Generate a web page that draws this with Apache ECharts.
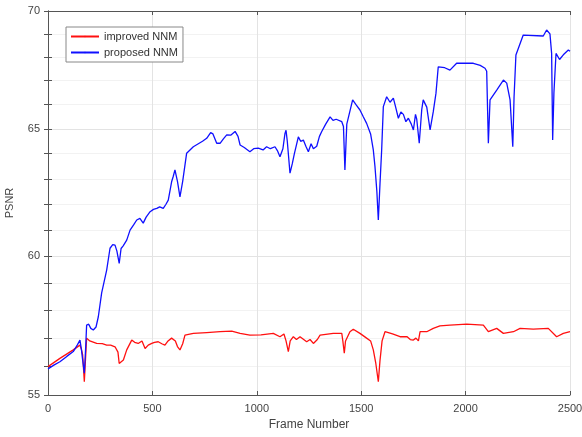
<!DOCTYPE html>
<html>
<head>
<meta charset="utf-8">
<script src="https://cdn.jsdelivr.net/npm/echarts@6/dist/echarts.min.js"></script>
<style>
  html, body { margin: 0; padding: 0; background: #fff; }
  #psnrChart { width: 582px; height: 437px; }
</style>
</head>
<body>
<div id="psnrChart"></div>
<script>
// 数据
const redFrames = [0, 57, 121, 153, 160, 166, 174, 180, 185, 200, 233, 260, 281, 300, 321, 335, 341, 350, 361, 377,
  401, 415, 432, 450, 465, 480, 497, 510, 528, 545, 560, 575, 592, 610, 620, 632, 645, 656, 696, 760,
  824, 880, 920, 967, 1020, 1079, 1111, 1130, 1140, 1151, 1160, 1175, 1190, 1207, 1239, 1255, 1271, 1290, 1303, 1366,
  1407, 1412, 1419, 1425, 1446, 1462, 1494, 1526, 1545, 1558, 1570, 1582, 1590, 1600, 1614, 1650, 1686, 1720, 1735, 1750,
  1762, 1774, 1782, 1814, 1845, 1877, 1925, 2005, 2085, 2109, 2149, 2181, 2229, 2261, 2324, 2396, 2436, 2468, 2500];
const redValues = [55.99, 56.28, 56.58, 56.75, 56.6, 56.40, 55.46, 56.3, 57.0, 56.9, 56.81, 56.8, 56.75, 56.75, 56.69, 56.5, 56.1, 56.05, 56.22, 56.58,
  56.93, 56.85, 56.81, 56.9, 56.63, 56.75, 56.81, 56.85, 56.87, 56.8, 56.75, 56.9, 57.0, 56.9, 56.7, 56.58, 56.8, 57.11, 57.17, 57.2,
  57.23, 57.25, 57.17, 57.11, 57.12, 57.17, 57.05, 57.15, 56.9, 56.52, 56.9, 57.05, 56.95, 57.05, 56.87, 56.95, 56.81, 56.95, 57.11, 57.17,
  57.17, 56.9, 56.46, 56.9, 57.23, 57.32, 57.17, 57.0, 56.9, 56.58, 56.1, 55.46, 56.2, 56.9, 57.23, 57.15, 57.05, 57.05, 56.95, 56.93,
  57.0, 56.9, 57.23, 57.23, 57.35, 57.44, 57.47, 57.50, 57.47, 57.23, 57.35, 57.17, 57.23, 57.35, 57.32, 57.35, 57.05, 57.17, 57.23];

const blueFrames = [0, 30, 57, 90, 121, 140, 153, 160, 166, 174, 180, 185, 195, 205, 217, 230, 241, 257, 281, 297,
  310, 321, 330, 341, 350, 360, 377, 393, 410, 425, 440, 456, 470, 489, 505, 521, 535, 552, 565, 576,
  592, 600, 608, 620, 632, 645, 664, 680, 696, 720, 740, 760, 779, 790, 808, 824, 840, 856, 875, 896,
  910, 920, 940, 967, 985, 1007, 1030, 1047, 1065, 1087, 1100, 1111, 1125, 1135, 1140, 1146, 1159, 1170, 1180, 1199,
  1210, 1223, 1235, 1247, 1260, 1271, 1287, 1300, 1311, 1330, 1351, 1365, 1380, 1407, 1415, 1422, 1431, 1459, 1475, 1494,
  1510, 1526, 1545, 1558, 1566, 1575, 1582, 1590, 1598, 1606, 1622, 1638, 1654, 1665, 1678, 1690, 1702, 1714, 1726, 1740,
  1750, 1760, 1766, 1778, 1790, 1797, 1814, 1830, 1845, 1858, 1869, 1900, 1925, 1957, 2000, 2037, 2070, 2093, 2101, 2109,
  2117, 2149, 2181, 2197, 2213, 2226, 2232, 2241, 2276, 2372, 2388, 2404, 2412, 2417, 2423, 2433, 2450, 2468, 2492, 2500];
const blueValues = [55.91, 56.05, 56.16, 56.35, 56.52, 56.75, 56.93, 56.6, 56.22, 55.76, 56.6, 57.47, 57.5, 57.35, 57.29, 57.4, 57.77, 58.64, 59.49, 60.31,
  60.45, 60.43, 60.2, 59.74, 60.3, 60.4, 60.62, 61.00, 61.2, 61.39, 61.45, 61.27, 61.5, 61.71, 61.8, 61.84, 61.9, 61.84, 62.0, 62.16,
  62.88, 63.1, 63.35, 62.9, 62.29, 62.9, 64.02, 64.15, 64.28, 64.4, 64.5, 64.62, 64.85, 64.8, 64.42, 64.42, 64.6, 64.76, 64.75, 64.90,
  64.7, 64.35, 64.25, 64.08, 64.2, 64.22, 64.15, 64.28, 64.2, 64.28, 64.1, 63.88, 64.2, 64.82, 64.95, 64.5, 63.22, 63.6, 64.0, 64.68,
  64.5, 64.55, 64.3, 64.08, 64.4, 64.2, 64.3, 64.7, 64.90, 65.2, 65.50, 65.35, 65.4, 65.30, 65.1, 63.35, 65.2, 66.20, 66.0, 65.78,
  65.5, 65.23, 64.8, 64.15, 63.48, 62.5, 61.39, 62.8, 64.15, 65.92, 66.33, 66.1, 66.27, 65.9, 65.44, 65.7, 65.6, 65.3, 65.44, 65.2,
  64.96, 65.6, 65.4, 64.42, 65.8, 66.20, 65.9, 64.96, 65.7, 66.47, 67.59, 67.55, 67.45, 67.74, 67.74, 67.74, 67.65, 67.53, 67.4, 64.42,
  66.20, 66.61, 67.03, 66.9, 66.20, 64.28, 66.3, 68.09, 68.95, 68.91, 69.17, 69.0, 68.16, 64.55, 66.5, 68.16, 67.9, 68.1, 68.31, 68.25];

const xTicks = [0, 500, 1000, 1500, 2000, 2500];
const yTickLabels = [55, 60, 65, 70];
const yMinorTicks = [55, 56, 57, 58, 59, 60, 61, 62, 63, 64, 65, 66, 67, 68, 69, 70];

const pairUp = (xs, ys) => xs.map((x, i) => [x, ys[i]]);

const chart = echarts.init(document.getElementById('psnrChart'));
const axisGray = '#555';
const labelGray = '#444';
const fontFam = 'Arial, "Liberation Sans", sans-serif';

chart.setOption({
  animation: false,
  grid: { left: 48, right: 12, top: 11, bottom: 42, outerBoundsMode: 'none' },
  legend: {
    data: ['improved NNM', 'proposed NNM'],
    orient: 'vertical',
    left: 66, top: 27,
    itemWidth: 28, itemHeight: 2, itemGap: 5,
    padding: [4, 5, 4, 4],
    borderColor: '#888', borderWidth: 1, backgroundColor: '#fff',
    textStyle: { fontSize: 11, color: '#333', fontFamily: fontFam }
  },
  xAxis: [
    {
      type: 'value', min: 0, max: 2500, interval: 500,
      name: 'Frame Number', nameLocation: 'middle', nameGap: 24,
      nameTextStyle: { fontSize: 12, color: labelGray, fontFamily: fontFam },
      axisLine: { lineStyle: { color: axisGray } },
      axisTick: { inside: true, length: 4, lineStyle: { color: axisGray } },
      axisLabel: { fontSize: 11, color: labelGray, margin: 8, fontFamily: fontFam,
        formatter: v => xTicks.includes(v) ? String(v) : '' },
      splitLine: { show: true, lineStyle: { color: '#e3e3e3', width: 1 } }
    },
    {
      type: 'value', position: 'top', min: 0, max: 2500, interval: 500,
      axisLine: { show: true, lineStyle: { color: axisGray } },
      axisTick: { show: true, inside: true, length: 4, lineStyle: { color: axisGray } },
      axisLabel: { show: false },
      splitLine: { show: false }
    }
  ],
  yAxis: [
    {
      type: 'log', logBase: 10, min: 55, max: 70,
      name: 'PSNR', nameLocation: 'middle', nameGap: 33,
      nameTextStyle: { fontSize: 11, color: labelGray, fontFamily: fontFam },
      axisLine: { show: true, lineStyle: { color: axisGray } },
      axisTick: { show: true, inside: true, length: 4, customValues: yMinorTicks, lineStyle: { color: axisGray } },
      axisLabel: { fontSize: 11, color: labelGray, margin: 8, fontFamily: fontFam, customValues: yTickLabels },
      splitLine: { show: true, lineStyle: { color: ['#e3e3e3', '#f2f2f2', '#f2f2f2', '#f2f2f2', '#f2f2f2'], width: 1 } }
    },
    {
      type: 'log', logBase: 10, min: 55, max: 70, position: 'right',
      axisLine: { show: true, lineStyle: { color: axisGray } },
      axisTick: { show: true, inside: true, length: 4, customValues: yMinorTicks, lineStyle: { color: axisGray } },
      axisLabel: { show: false },
      splitLine: { show: false }
    }
  ],
  series: [
    {
      name: 'improved NNM', type: 'line', symbol: 'none',
      data: pairUp(redFrames, redValues),
      lineStyle: { color: '#ff1010', width: 1.3 }, itemStyle: { color: '#ff1010' }
    },
    {
      name: 'proposed NNM', type: 'line', symbol: 'none',
      data: pairUp(blueFrames, blueValues),
      lineStyle: { color: '#1010ff', width: 1.3 }, itemStyle: { color: '#1010ff' }
    }
  ]
});
</script>
</body>
</html>
